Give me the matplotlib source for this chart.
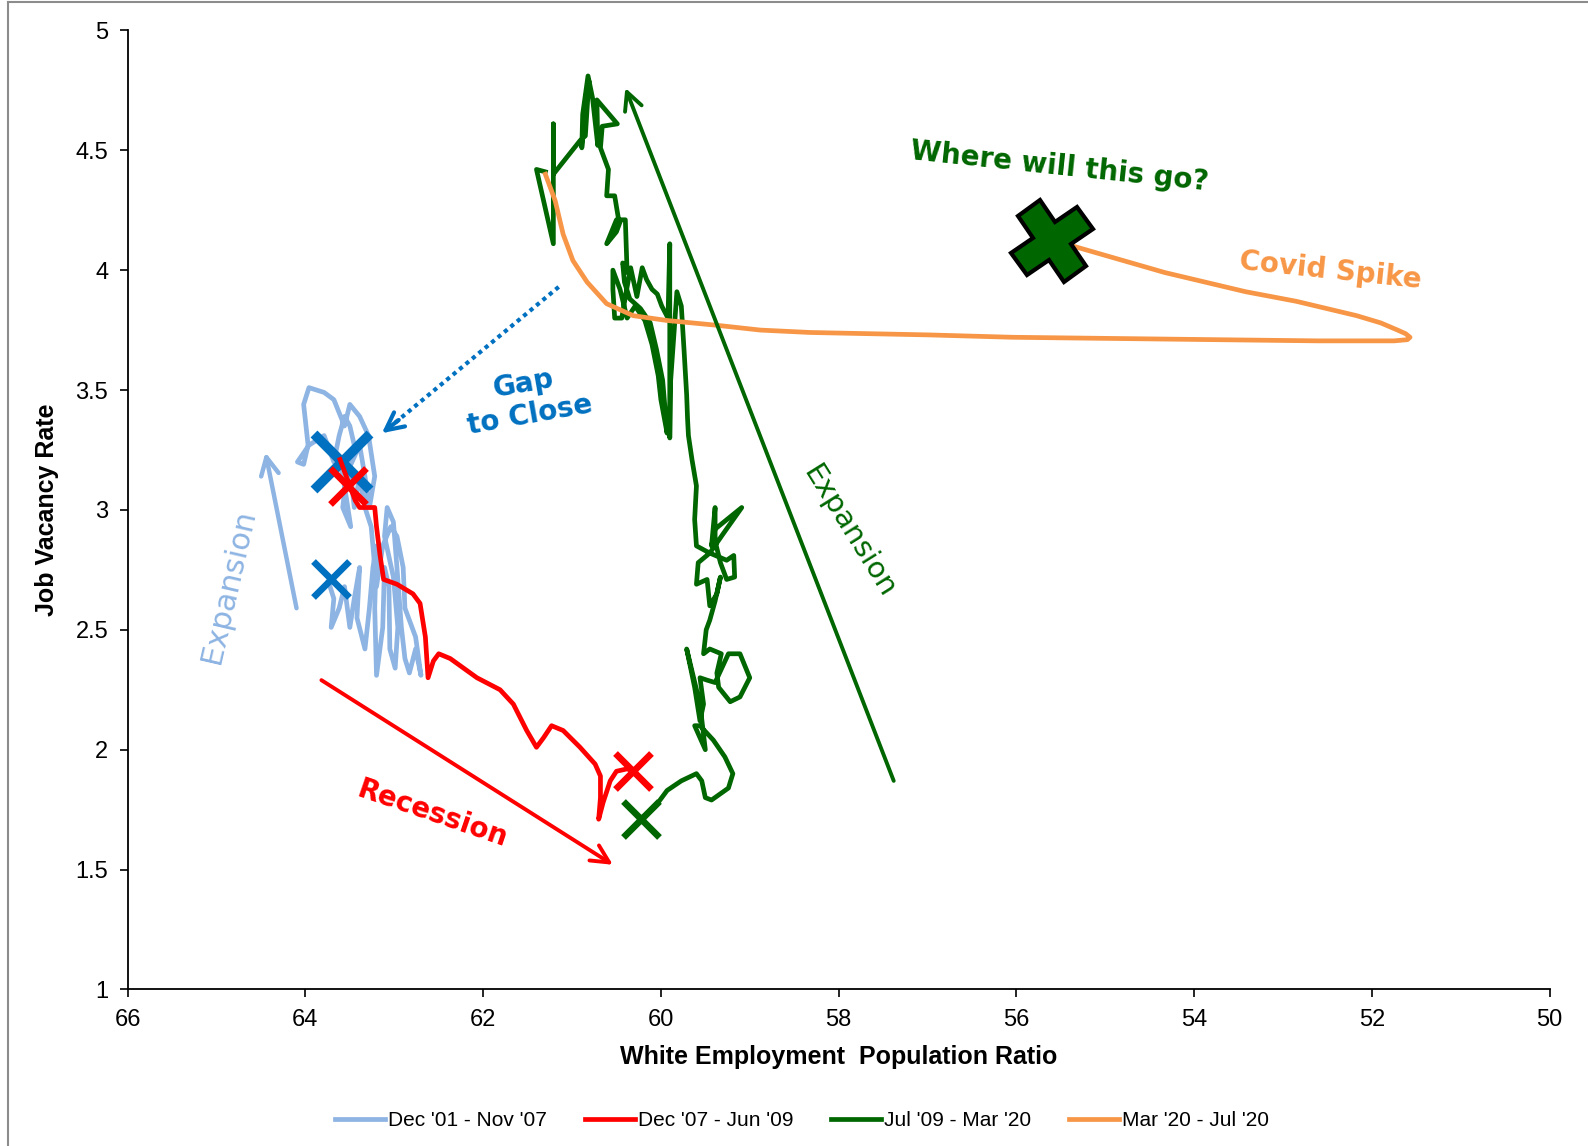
import matplotlib
matplotlib.use('Agg')
from matplotlib import pyplot as plt
from matplotlib.lines import Line2D
from matplotlib.markers import MarkerStyle
from matplotlib.transforms import Affine2D

plt.rcParams['font.family'] = ['Liberation Sans', 'DejaVu Sans']

# Dec '01 - Nov '07
blue_x = [63.74, 63.68, 63.71, 63.62, 63.56, 63.50, 63.45, 63.39, 63.42, 63.33,
          63.28, 63.24, 63.20, 63.22, 63.20, 63.13, 63.11, 63.06, 63.05, 62.99,
          62.96, 63.01, 63.11, 63.08, 63.01, 62.97, 62.92, 62.88, 62.83, 62.76,
          62.70, 62.76, 62.88, 62.90, 62.97, 63.04, 63.13, 63.20, 63.26, 63.33,
          63.39, 63.45, 63.50, 63.39, 63.33, 63.28, 63.22, 63.29, 63.39, 63.50,
          63.56, 63.68, 63.79, 63.96, 64.02, 63.97, 64.02, 64.09, 63.96, 63.79,
          63.68, 63.62, 63.56, 63.50, 63.45, 63.54, 63.58, 63.49, 63.56, 63.61]
blue_y = [2.70, 2.63, 2.51, 2.59, 2.68, 2.51, 2.63, 2.76, 2.55, 2.42,
          2.59, 2.76, 2.85, 2.59, 2.31, 2.51, 2.76, 2.68, 2.42, 2.34,
          2.51, 2.72, 2.89, 3.01, 2.95, 2.76, 2.51, 2.38, 2.32, 2.42,
          2.31, 2.47, 2.59, 2.76, 2.89, 2.93, 2.85, 2.68, 2.93, 3.01,
          3.14, 3.01, 3.18, 3.27, 3.14, 3.01, 3.14, 3.31, 3.39, 3.44,
          3.35, 3.46, 3.49, 3.51, 3.44, 3.27, 3.19, 3.20, 3.27, 3.31,
          3.20, 3.31, 3.39, 3.35, 3.27, 3.14, 3.01, 2.93, 3.10, 3.20]

# Dec '07 - Jun '09
red_x = [63.61, 63.53, 63.44, 63.39, 63.29, 63.22, 63.20, 63.16, 63.12, 62.97,
         62.79, 62.71, 62.65, 62.62, 62.56, 62.50, 62.37, 62.07, 61.81, 61.66,
         61.51, 61.40, 61.32, 61.23, 61.10, 60.91, 60.74, 60.68, 60.68, 60.70,
         60.65, 60.57, 60.50, 60.38, 60.31]
red_y = [3.21, 3.13, 3.04, 3.01, 3.01, 3.01, 2.93, 2.81, 2.71, 2.69,
         2.65, 2.61, 2.47, 2.30, 2.37, 2.40, 2.38, 2.30, 2.25, 2.19,
         2.08, 2.01, 2.05, 2.10, 2.08, 2.01, 1.94, 1.89, 1.80, 1.71,
         1.78, 1.87, 1.91, 1.92, 1.91]

# Jul '09 - Mar '20
green_x = [60.20, 60.07, 59.93, 59.77, 59.60, 59.54, 59.50, 59.43, 59.24, 59.19,
           59.28, 59.41, 59.56, 59.62, 59.50, 59.56, 59.71, 59.62, 59.56, 59.52,
           59.56, 59.48, 59.39, 59.24, 59.11, 59.00, 59.11, 59.22, 59.35, 59.37,
           59.32, 59.45, 59.52, 59.49, 59.45, 59.39, 59.33, 59.37, 59.45, 59.48,
           59.60, 59.58, 59.45, 59.26, 59.18, 59.17, 59.26, 59.33, 59.39, 59.39,
           59.43, 59.39, 59.09, 59.30, 59.45, 59.60, 59.62, 59.60, 59.65, 59.69,
           59.70,
           59.71, 59.74, 59.77, 59.82, 59.85, 59.89, 59.90, 59.90, 59.92, 59.99,
           60.04, 60.10, 60.16, 60.21, 60.27, 60.34, 60.39, 60.44, 60.52, 60.54,
           60.54, 60.46, 60.38, 60.29, 60.18, 60.10, 60.03, 60.00, 59.93, 59.98,
           60.05, 60.12, 60.23, 60.35, 60.41, 60.43, 60.38, 60.40, 60.50, 60.61,
           60.50, 60.46, 60.48, 60.52, 60.61, 60.59, 60.68, 60.66, 60.49, 60.72,
           60.71, 60.77, 60.82, 60.88, 60.89, 60.84, 60.81, 60.85, 60.91, 61.21,
           61.21, 61.21, 61.40, 61.30]
green_y = [1.72, 1.76, 1.83, 1.87, 1.90, 1.87, 1.80, 1.79, 1.84, 1.90,
           1.97, 2.04, 2.10, 2.10, 2.00, 2.19, 2.42, 2.26, 2.12, 2.19,
           2.30, 2.29, 2.28, 2.40, 2.40, 2.30, 2.22, 2.20, 2.26, 2.32,
           2.40, 2.42, 2.40, 2.50, 2.54, 2.62, 2.72, 2.65, 2.60, 2.71,
           2.69, 2.78, 2.82, 2.79, 2.81, 2.72, 2.71, 2.78, 2.87, 3.01,
           2.85, 2.92, 3.01, 2.90, 2.82, 2.85, 2.96, 3.10, 3.21, 3.31,
           3.38,
           3.48, 3.67, 3.85, 3.91, 3.75, 3.54, 3.30, 4.11, 3.80, 3.85,
           3.90, 3.92, 3.96, 4.01, 3.89, 4.01, 3.91, 3.80, 3.80, 3.92,
           4.00, 3.92, 3.80, 3.85, 3.79, 3.69, 3.56, 3.46, 3.32, 3.54,
           3.67, 3.78, 3.84, 3.88, 3.95, 4.03, 3.99, 4.21, 4.21, 4.11,
           4.16, 4.20, 4.22, 4.31, 4.31, 4.42, 4.51, 4.60, 4.61, 4.71,
           4.52, 4.72, 4.81, 4.65, 4.51, 4.73, 4.79, 4.56, 4.54, 4.40,
           4.61, 4.11, 4.42, 4.41]

# Mar '20 - Jul '20
orange_x = [61.30, 61.19, 61.10, 60.99, 60.83, 60.61, 60.31, 59.93, 59.37, 58.88,
            58.32, 57.00, 56.04, 54.90, 53.76, 52.60, 52.05, 51.75, 51.60, 51.57,
            51.62, 51.71, 51.90, 52.17, 52.85, 53.42, 54.33, 55.36, 55.60]
orange_y = [4.40, 4.29, 4.15, 4.04, 3.95, 3.86, 3.81, 3.79, 3.77, 3.75,
            3.74, 3.73, 3.72, 3.715, 3.71, 3.705, 3.705, 3.705, 3.71, 3.72,
            3.735, 3.75, 3.78, 3.81, 3.87, 3.91, 3.99, 4.10, 4.12]

labels = ["Dec '01 - Nov '07", "Dec '07 - Jun '09", "Jul '09 - Mar '20", "Mar '20 - Jul '20"]

# start / end points
blue_start = (63.71, 2.71)
blue_end = (63.59, 3.20)
red_start = (63.52, 3.10)
red_end = (60.31, 1.91)
green_start = (60.22, 1.71)
covid_now = (55.60, 4.12)

c_lblue = '#8DB4E2'
c_red = '#FF0000'
c_green = '#006600'
c_orange = '#F79646'
c_blue = '#0070C0'

fig = plt.figure(figsize=(15.88, 11.46), dpi=100)
ax = fig.add_axes([0.0804, 0.1366, 0.8954, 0.8369])

lw = 3.4
ax.plot(blue_x, blue_y, color=c_lblue, lw=lw, solid_joinstyle='round', label=labels[0])
ax.plot(*blue_start, marker='x', color=c_blue, ms=26, mew=4.8, ls='none')
ax.plot(*blue_end, marker='x', color=c_blue, ms=41, mew=7, ls='none')
ax.plot(red_x, red_y, color=c_red, lw=lw, solid_joinstyle='round', label=labels[1])
ax.plot(*red_start, marker='x', color=c_red, ms=26, mew=4.8, ls='none')
ax.plot(*red_end, marker='x', color=c_red, ms=26, mew=4.8, ls='none')
ax.plot(green_x, green_y, color=c_green, lw=lw, solid_joinstyle='round', label=labels[2])
ax.plot(*green_start, marker='x', color=c_green, ms=26, mew=4.8, ls='none')
ax.plot(orange_x, orange_y, color=c_orange, lw=lw, solid_joinstyle='round', label=labels[3])
big_x = MarkerStyle('X', transform=Affine2D().rotate_deg(-10))
ax.plot(*covid_now, marker=big_x, ms=55, mfc=c_green, mec='black', mew=3, ls='none')

# arrows
def arrow(start, end, color, lw, ls='-'):
    ax.annotate('', xy=end, xytext=start,
                arrowprops=dict(arrowstyle='->', color=color, lw=lw, ls=ls,
                                mutation_scale=32, shrinkA=0, shrinkB=0))

arrow((64.10, 2.59), (64.45, 3.24), c_lblue, 3.2)
arrow((63.82, 2.29), (60.54, 1.52), c_red, 2.8)
arrow((57.38, 1.87), (60.40, 4.76), c_green, 2.8)
# dotted shaft + solid head
ax.plot([61.15, 63.10], [3.93, 3.33], color=c_blue, lw=3, ls=(0, (1, 1)))
arrow((62.95, 3.375), (63.14, 3.32), c_blue, 3)

# notes
ax.text(55.52, 4.43, 'Where will this go?', color=c_green, fontsize=20, fontweight='bold',
        family='DejaVu Sans', rotation=-6, ha='center', va='center')
ax.text(52.47, 4.00, 'Covid Spike', color=c_orange, fontsize=20, fontweight='bold',
        family='DejaVu Sans', rotation=-6, ha='center', va='center')
ax.text(61.51, 3.46, 'Gap\nto Close', color=c_blue, fontsize=20, fontweight='bold',
        family='DejaVu Sans', rotation=10, ha='center', va='center', multialignment='center')
ax.text(64.87, 2.68, 'Expansion', color=c_lblue, fontsize=22, fontweight='medium',
        family='DejaVu Sans', rotation=77, ha='center', va='center')
ax.text(62.57, 1.73, 'Recession', color=c_red, fontsize=20, fontweight='bold',
        family='DejaVu Sans', rotation=-19, ha='center', va='center')
ax.text(57.89, 2.91, 'Expansion', color=c_green, fontsize=21, fontweight='medium',
        family='DejaVu Sans', rotation=-58, ha='center', va='center')

ax.set_xlim(66, 50)
ax.set_ylim(1, 5)
ax.set_xticks(range(66, 49, -2))
ax.set_yticks([1, 1.5, 2, 2.5, 3, 3.5, 4, 4.5, 5])
ax.set_yticklabels(['1', '1.5', '2', '2.5', '3', '3.5', '4', '4.5', '5'])
ax.tick_params(direction='out', length=6, width=1.2, labelsize=17, pad=8)
for s in ['top', 'right']:
    ax.spines[s].set_visible(False)
for s in ['left', 'bottom']:
    ax.spines[s].set_linewidth(1.3)

ax.set_xlabel('White Employment  Population Ratio', fontsize=18, fontweight='bold', labelpad=10)
ax.set_ylabel('Job Vacancy Rate', fontsize=18, fontweight='bold', labelpad=12)

fig.legend(loc='center', bbox_to_anchor=(0.505, 0.022), ncol=4, frameon=False,
           fontsize=15, handlelength=2.4, handletextpad=0.15, columnspacing=1.8)

# chart frame
fig.add_artist(Line2D([0.005, 0.005], [0, 0.998], color='#8c8c8c', lw=1.5))
fig.add_artist(Line2D([0.005, 1], [0.998, 0.998], color='#8c8c8c', lw=1.5))

fig.savefig('out.png', dpi=100)
